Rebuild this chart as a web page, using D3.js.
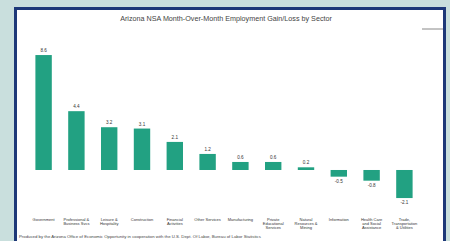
<!DOCTYPE html>
<html lang="en">
<head>
    <meta charset="UTF-8">
    <title>Arizona NSA Month-Over-Month Employment Gain/Loss by Sector</title>
    <style>
        body { margin: 0; background: #c9dfdd; }
        svg { display: block; font-family: "Liberation Sans", Arial, sans-serif; }
    </style>
</head>
<body>
    <svg width="450" height="241"></svg>

    <script src="https://d3js.org/d3.v7.min.js"></script>
    <script>
        var sectors = [
            ["Government"],
            ["Professional &", "Business Svcs"],
            ["Leisure &", "Hospitality"],
            ["Construction"],
            ["Financial", "Activities"],
            ["Other Services"],
            ["Manufacturing"],
            ["Private", "Educational", "Services"],
            ["Natural", "Resources &", "Mining"],
            ["Information"],
            ["Health Care", "and Social", "Assistance"],
            ["Trade,", "Transportation", "& Utilities"]
        ];
        var changes = [8.6, 4.4, 3.2, 3.1, 2.1, 1.2, 0.6, 0.6, 0.2, -0.5, -0.8, -2.1];
        var valueLabels = ["8.6", "4.4", "3.2", "3.1", "2.1", "1.2", "0.6", "0.6", "0.2", "-0.5", "-0.8", "-2.1"];

        var svg = d3.select('svg');

        // card with dark border
        svg.append('rect')
            .attr('x', 15.5).attr('y', 8.5)
            .attr('width', 429).attr('height', 240)
            .attr('fill', '#ffffff')
            .attr('stroke', '#1d3878')
            .attr('stroke-width', 3);

        svg.append('text')
            .attr('x', 226).attr('y', 21)
            .attr('text-anchor', 'middle')
            .attr('font-size', 7.2)
            .attr('fill', '#444')
            .text('Arizona NSA Month-Over-Month Employment Gain/Loss by Sector');

        // small legend mark top right
        svg.append('line')
            .attr('x1', 422).attr('x2', 443)
            .attr('y1', 29).attr('y2', 29)
            .attr('stroke', '#888').attr('stroke-width', 1);

        var x = d3.scaleBand()
            .domain(d3.range(changes.length))
            .range([19, 429])
            .padding(0.5);

        var y = d3.scaleLinear()
            .domain([-2.5, 9])
            .range([203.4, 49.7]);

        svg.selectAll('.bar')
            .data(changes)
            .enter().append('rect')
            .attr('class', 'bar')
            .attr('x', function(d, i) { return x(i); })
            .attr('width', x.bandwidth())
            .attr('y', function(d) { return y(Math.max(0, d)); })
            .attr('height', function(d) { return Math.max(1.5, Math.abs(y(d) - y(0))); })
            .attr('fill', '#22a182');

        svg.selectAll('.val')
            .data(changes)
            .enter().append('text')
            .attr('class', 'val')
            .attr('x', function(d, i) { return x(i) + x.bandwidth() / 2; })
            .attr('y', function(d) { return d >= 0 ? y(d) - 3 : y(d) + 6; })
            .attr('text-anchor', 'middle')
            .attr('font-size', 4.6)
            .attr('fill', '#333')
            .text(function(d, i) { return valueLabels[i]; });

        // category labels
        var cat = svg.selectAll('.cat')
            .data(sectors)
            .enter().append('text')
            .attr('class', 'cat')
            .attr('x', function(d, i) { return x(i) + x.bandwidth() / 2; })
            .attr('y', 221)
            .attr('text-anchor', 'middle')
            .attr('font-size', 4)
            .attr('fill', '#333');

        cat.selectAll('tspan')
            .data(function(d) { return d; })
            .enter().append('tspan')
            .attr('x', function() { return d3.select(this.parentNode).attr('x'); })
            .attr('dy', function(d, i) { return i === 0 ? 0 : 4.2; })
            .text(function(d) { return d; });

        svg.append('text')
            .attr('x', 19).attr('y', 238)
            .attr('font-size', 4.3)
            .attr('fill', '#444')
            .text('Produced by the Arizona Office of Economic Opportunity in cooperation with the U.S. Dept. Of Labor, Bureau of Labor Statistics');
    </script>
</body>
</html>
